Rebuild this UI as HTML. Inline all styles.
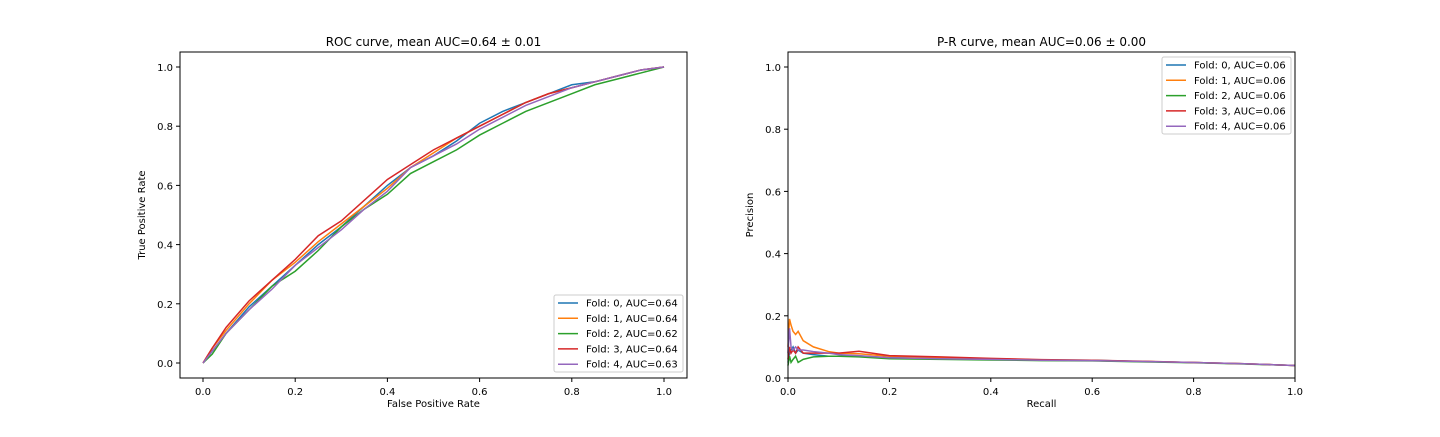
<!DOCTYPE html>
<html><head><meta charset="utf-8"><style>
body{margin:0;background:#fff}
svg text{font-family:"DejaVu Sans","Liberation Sans",sans-serif;fill:#000}
</style></head><body>
<svg id="c" width="1440" height="432"></svg>
<script>
const rocLabels=["Fold: 0, AUC=0.64","Fold: 1, AUC=0.64","Fold: 2, AUC=0.62","Fold: 3, AUC=0.64","Fold: 4, AUC=0.63"];
const prLabels=["Fold: 0, AUC=0.06","Fold: 1, AUC=0.06","Fold: 2, AUC=0.06","Fold: 3, AUC=0.06","Fold: 4, AUC=0.06"];
const colors=["#1f77b4","#ff7f0e","#2ca02c","#d62728","#9467bd"];
const rocX=[0,0.02,0.05,0.1,0.15,0.2,0.25,0.3,0.35,0.4,0.45,0.5,0.55,0.6,0.65,0.7,0.75,0.8,0.85,0.9,0.95,1];
const rocY=[
[0,0.04,0.1,0.19,0.26,0.33,0.4,0.46,0.53,0.6,0.66,0.7,0.75,0.81,0.85,0.88,0.91,0.94,0.95,0.97,0.99,1],
[0,0.05,0.11,0.2,0.28,0.34,0.41,0.47,0.53,0.59,0.66,0.71,0.76,0.8,0.84,0.88,0.91,0.93,0.95,0.97,0.99,1],
[0,0.03,0.1,0.18,0.26,0.31,0.38,0.46,0.52,0.57,0.64,0.68,0.72,0.77,0.81,0.85,0.88,0.91,0.94,0.96,0.98,1],
[0,0.05,0.12,0.21,0.28,0.35,0.43,0.48,0.55,0.62,0.67,0.72,0.76,0.8,0.84,0.88,0.91,0.93,0.95,0.97,0.99,1],
[0,0.04,0.1,0.18,0.25,0.33,0.39,0.45,0.52,0.58,0.66,0.7,0.74,0.79,0.83,0.87,0.9,0.93,0.95,0.97,0.99,1]];
const prX=[0,0.003,0.006,0.01,0.015,0.02,0.03,0.05,0.08,0.1,0.14,0.2,0.3,0.4,0.5,0.6,0.7,0.8,0.9,1];
const prY=[
[0.05,0.08,0.09,0.1,0.08,0.09,0.08,0.075,0.07,0.07,0.07,0.066,0.064,0.062,0.058,0.057,0.053,0.05,0.046,0.04],
[0.1,0.19,0.17,0.15,0.14,0.15,0.12,0.1,0.085,0.08,0.078,0.07,0.066,0.062,0.058,0.056,0.053,0.05,0.046,0.04],
[0.04,0.07,0.05,0.06,0.07,0.05,0.06,0.068,0.07,0.07,0.068,0.062,0.06,0.058,0.056,0.055,0.052,0.049,0.045,0.04],
[0.06,0.1,0.08,0.09,0.08,0.1,0.08,0.08,0.08,0.08,0.086,0.072,0.068,0.063,0.059,0.057,0.054,0.05,0.046,0.04],
[0.08,0.16,0.1,0.09,0.1,0.09,0.09,0.085,0.08,0.075,0.072,0.065,0.062,0.06,0.057,0.056,0.053,0.05,0.046,0.04]];
const ticks=[0,0.2,0.4,0.6,0.8,1.0];
const NS="http://www.w3.org/2000/svg",svg=document.getElementById('c');
function el(t,a,p){const e=document.createElementNS(NS,t);for(const k in a)e.setAttribute(k,a[k]);(p||svg).appendChild(e);return e;}
function txt(x,y,s,anchor,size,p,rot){const e=el('text',{x:x,y:y,'text-anchor':anchor,'font-size':size},p);if(rot)e.setAttribute('transform',`rotate(-90 ${x} ${y})`);e.textContent=s;return e;}
function panel(name,L,R,T,B,sx,sy,xs,ys,title,xl,yl,legT,legR,labels){
 const g=el('g',{});
 
 
 for(let i=0;i<xs.length;i++){
  const g2=el('g',{},g);
  
  
  el('polyline',{points:xs[i].map((x,j)=>sx(x)+','+sy(ys[i][j])).join(' '),fill:'none',stroke:colors[i],'stroke-width':1.5},g2);
 }
 el('rect',{x:L,y:T,width:R-L,height:B-T,fill:'none',stroke:'#000','stroke-width':1},g);
 ticks.forEach(t=>{
  el('line',{x1:sx(t),x2:sx(t),y1:B,y2:B+4,stroke:'#000'},g);
  txt(sx(t),B+17,t.toFixed(1),'middle',10,g);
  el('line',{x1:L-4,x2:L,y1:sy(t),y2:sy(t),stroke:'#000'},g);
  txt(L-7,sy(t)+4,t.toFixed(1),'end',10,g);
 });
 const tt=txt((L+R)/2,46,title,'middle',12,g);
 const xt=txt((L+R)/2,407,xl,'middle',10,g);
 const yt=txt(L-35,(T+B)/2,yl,'middle',10,g,true);
 const lg=el('g',{},g);
 
 
 const lw=129,lh=77;
 el('rect',{x:legR-lw,y:legT,width:lw,height:lh,rx:2,fill:'#fff','fill-opacity':0.8,stroke:'#ccc'},lg);
 labels.forEach((f,i)=>{
  const y=legT+8+i*15.3;
  const e=el('g',{},lg);
  
  
  el('line',{x1:legR-lw+4,x2:legR-lw+24,y1:y,y2:y,stroke:colors[i],'stroke-width':1.5},e);
  txt(legR-lw+32,y+3.5,f,'start',10,e);
 });
}
const sx1=v=>203+v*461, sy1=v=>363-v*296;
panel('roc-chart',180,687,52,378,sx1,sy1,rocY.map(()=>rocX),rocY,'ROC curve, mean AUC=0.64 \u00b1 0.01','False Positive Rate','True Positive Rate',295,683,rocLabels);
const sx2=v=>788+v*507, sy2=v=>378-v*311;
panel('pr-chart',788,1295,52,378,sx2,sy2,prY.map(()=>prX),prY,'P-R curve, mean AUC=0.06 \u00b1 0.00','Recall','Precision',57,1291,prLabels);
</script>
</body></html>
